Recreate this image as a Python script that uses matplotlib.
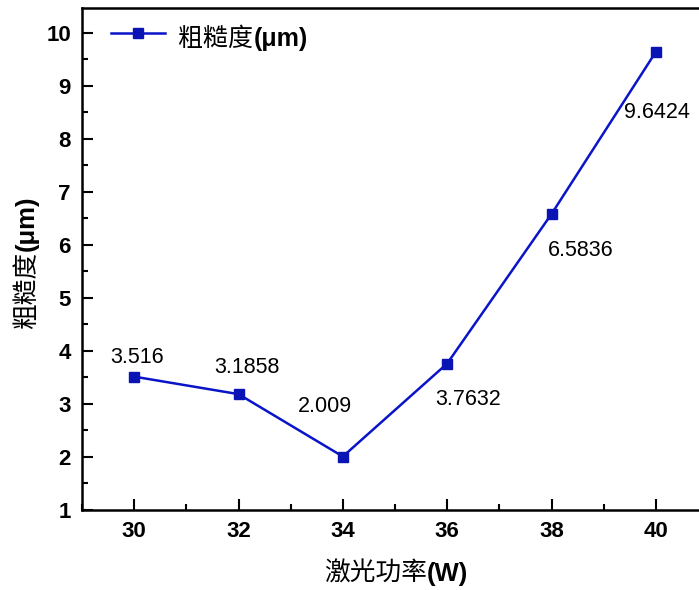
import matplotlib
matplotlib.use('Agg')
import matplotlib.pyplot as plt
from matplotlib.ticker import MultipleLocator

# 激光功率与粗糙度
power = [30, 32, 34, 36, 38, 40]
roughness = [3.516, 3.1858, 2.009, 3.7632, 6.5836, 9.6424]
# 数据标签偏移 (points)
label_offset = [(2, 14), (6, 19), (-13, 36), (15, -26), (21, -26), (1, -44)]

plt.rcParams['font.family'] = ['Liberation Sans Narrow', 'Liberation Sans', 'Noto Sans CJK SC', 'DejaVu Sans']

fig = plt.figure(figsize=(6.99, 5.90), dpi=100)
ax = fig.add_axes([82 / 699, 1 - 510 / 590, 626 / 699, 502 / 590])

ax.plot(power, roughness, color='#0a14c8', lw=1.8, marker='s', ms=7,
        markerfacecolor='#0a14b4', markeredgecolor='#0a14b4')

for x, y, off in zip(power, roughness, label_offset):
    ax.annotate(f'{y:g}', (x, y), xytext=off, textcoords='offset points',
                ha='center', va='center', fontsize=15.5,
                family=['Liberation Sans', 'DejaVu Sans'])

ax.set_xlim(29, 41)
ax.set_ylim(1, 10.47)
ax.set_xticks(power)
ax.xaxis.set_minor_locator(MultipleLocator(1))
ax.yaxis.set_major_locator(MultipleLocator(1))
ax.yaxis.set_minor_locator(MultipleLocator(0.5))
ax.tick_params(which='both', direction='in', width=1.5, labelsize=16, pad=8)
ax.tick_params(which='major', length=8)
ax.tick_params(which='minor', length=4)
for lab in ax.get_xticklabels() + ax.get_yticklabels():
    lab.set_fontweight('bold')
for sp in ax.spines.values():
    sp.set_linewidth(1.8)

# 图例: 手动绘制线段与方块
leg_y = 10.0
ax.plot([29.55, 30.6], [leg_y, leg_y], color='#0a14c8', lw=1.8)
ax.plot([30.07], [leg_y], color='#0a14b4', marker='s', ms=7)

fig.canvas.draw()
r = fig.canvas.get_renderer()


def label_pair(cn, unit, size, x, y, vertical=False):
    # 中文常规 + 单位加粗, 拼成一个标题
    rot = 90 if vertical else 0
    a = fig.text(0, 0, cn, fontsize=size, rotation=rot, family=['Noto Sans CJK SC'],
                 va='center', ha='center')
    b = fig.text(0, 0, unit, fontsize=size, rotation=rot, fontweight='bold',
                 family=['Liberation Sans', 'DejaVu Sans'], va='center', ha='center')
    ea, eb = a.get_window_extent(r), b.get_window_extent(r)
    if vertical:
        h1, h2 = ea.height, eb.height
        y0 = y - (h1 + h2) / 2
        a.set_position((x / 699, (y0 + h1 / 2) / 590))
        b.set_position((x / 699, (y0 + h1 + h2 / 2) / 590))
    else:
        w1, w2 = ea.width, eb.width
        x0 = x - (w1 + w2) / 2
        a.set_position(((x0 + w1 / 2) / 699, y / 590))
        b.set_position(((x0 + w1 + w2 / 2) / 699, y / 590))


label_pair('激光功率', '(W)', 18.5, 396, 590 - 574)
label_pair('粗糙度', '(μm)', 18.5, 27, 590 - 262, vertical=True)
label_pair('粗糙度', '(μm)', 18, 243, 590 - 39)

fig.savefig('out.png', dpi=100)
